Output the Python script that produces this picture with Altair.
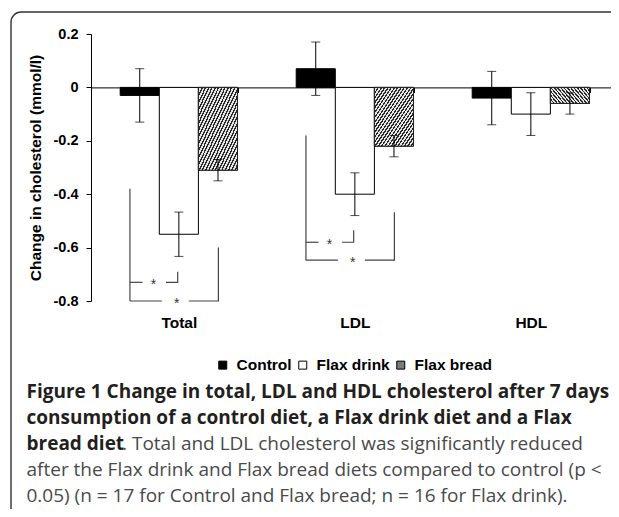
import altair as alt
import pandas as pd

# ---------------- data ----------------
categories = ["Total", "LDL", "HDL"]
groups = ["Control", "Flax drink", "Flax bread"]
control_mean = [-0.03, 0.07, -0.04]
drink_mean = [-0.55, -0.40, -0.10]
bread_mean = [-0.31, -0.22, -0.06]
control_err = [0.10, 0.10, 0.10]
drink_err = [0.083, 0.08, 0.08]
bread_err = [0.04, 0.04, 0.04]
y_domain = [-0.8, 0.2]
y_ticks = [0.2, 0, -0.2, -0.4, -0.6, -0.8]

# significance brackets (value levels)
sig_cats = ["Total", "LDL"]
sig_left_top = [-0.38, -0.18]
sig1_y = [-0.73, -0.58]
sig1_right_top = [-0.69, -0.535]
sig2_y = [-0.80, -0.647]
sig2_right_top = [-0.60, -0.468]
sig_mark = "*"

y_title = "Change in cholesterol (mmol/l)"
caption_bold = ["Figure 1 Change in total, LDL and HDL cholesterol after 7 days",
                "consumption of a control diet, a Flax drink diet and a Flax",
                "bread diet"]
caption_tail = ". Total and LDL cholesterol was significantly reduced"
caption_regular = ["after the Flax drink and Flax bread diets compared to control (p <",
                   "0.05) (n = 17 for Control and Flax bread; n = 16 for Flax drink)."]

# ---------------- layout constants ----------------
W, H = 520, 267
PAD_L, PAD_T, PAD_B = 83, 26, 208
CAP_FONT = "Open Sans"
CAP_SIZE = 19
CAP_LH = 26
CAP_TOP = 398          # page baseline of first caption line
AX_FONT = "Liberation Sans"

# positions inside a category band (fraction of band width)
P_LEFT, P_DRINK, P_BREAD = 0.083, 0.49, 0.837
G1A, G1B, S1 = 0.19, 0.39, 0.284
G2A, G2B, S2 = 0.355, 0.585, 0.481

# ---------------- tables ----------------
rows = []
for i, c in enumerate(categories):
    for g, m, e in zip(groups, [control_mean[i], drink_mean[i], bread_mean[i]],
                       [control_err[i], drink_err[i], bread_err[i]]):
        rows.append({"cat": c, "grp": g, "mean": m, "lo": m - e, "hi": m + e})
bars_df = pd.DataFrame(rows)

seg_rows, star_rows = [], []
for c, lt, y1, r1, y2, r2 in zip(sig_cats, sig_left_top, sig1_y, sig1_right_top, sig2_y, sig2_right_top):
    segs = [[(P_LEFT, lt), (P_LEFT, y2)],
            [(P_LEFT, y1), (G1A, y1)],
            [(G1B, y1), (P_DRINK, y1), (P_DRINK, r1)],
            [(P_LEFT, y2), (G2A, y2)],
            [(G2B, y2), (P_BREAD, y2), (P_BREAD, r2)]]
    for si, seg in enumerate(segs):
        for pi, (o, v) in enumerate(seg):
            seg_rows.append({"cat": c, "seg": f"{c}-{si}", "pt": pi, "off": o, "val": v})
    star_rows.append({"cat": c, "off": S1, "val": y1, "t": sig_mark})
    star_rows.append({"cat": c, "off": S2, "val": y2, "t": sig_mark})
seg_df = pd.DataFrame(seg_rows)
star_df = pd.DataFrame(star_rows)

# ---------------- encodings ----------------
zero_frac = (y_domain[1] - 0) / (y_domain[1] - y_domain[0])
x_axis = alt.Axis(title=None, orient="bottom", offset=-(H - zero_frac * H),
                  domainColor="black", domainWidth=1, tickColor="black", tickWidth=1,
                  tickSize=5, tickBand="extent", labelPadding=223, labelAngle=0,
                  labelFont=AX_FONT, labelFontSize=15.5, labelFontWeight="bold",
                  labelColor="black", grid=False)
x_scale = alt.Scale(domain=categories, paddingInner=1 / 3, paddingOuter=0.144, align=0.576)
y_axis = alt.Axis(title=y_title, values=y_ticks,
                  labelExpr="datum.value == 0 ? '0' : replace(format(datum.value, '.1f'), '\u2212', '-')",
                  domainColor="black", tickColor="black", tickSize=5, labelPadding=8,
                  labelFont=AX_FONT, labelFontSize=14.5, labelFontWeight="bold", labelColor="black",
                  titleFont=AX_FONT, titleFontSize=15.5, titleFontWeight="bold", titleColor="black",
                  titlePadding=10, grid=False)
y_scale = alt.Scale(domain=y_domain, nice=False, zero=False)


def X():
    return alt.X("cat:N", scale=x_scale, axis=x_axis, sort=categories)


def Y(field):
    return alt.Y(field, scale=y_scale, axis=y_axis, title=y_title)


xoff_nom = alt.XOffset("grp:N", scale=alt.Scale(domain=groups, paddingInner=0, paddingOuter=0), sort=groups)
xoff_q = alt.XOffset("off:Q", scale=alt.Scale(domain=[0, 1], nice=False, zero=False))

base = alt.Chart(bars_df)

bars = base.mark_bar(stroke="black", strokeWidth=1).encode(
    x=X(), xOffset=xoff_nom, y=Y("mean:Q"), y2=alt.datum(0),
    fill=alt.Fill("grp:N", scale=alt.Scale(domain=groups, range=["black", "white", "#7a7a7a"]),
                  legend=alt.Legend(title=None, orient="none", legendX=124, legendY=323,
                                    direction="horizontal", symbolType="square", symbolSize=64,
                                    symbolStrokeColor="black", symbolStrokeWidth=1,
                                    labelFont=AX_FONT, labelFontSize=15.5, labelFontWeight="bold",
                                    labelColor="black", columnPadding=3, labelOffset=6, padding=0)))

N = 24
stops = []
for k in range(N):
    a, b, c2 = k / N, (k + 0.45) / N, (k + 1) / N
    stops += [{"offset": a, "color": "#2a2a2a"}, {"offset": b, "color": "#2a2a2a"},
              {"offset": b, "color": "#e4e4e4"}, {"offset": c2, "color": "#e4e4e4"}]
hatch_fill = {"gradient": "linear", "x1": 0, "y1": 0, "x2": 1, "y2": 1, "stops": stops}

hatch = base.transform_filter(alt.datum.grp == groups[2]).mark_bar(
    fill=hatch_fill, stroke="#222", strokeWidth=1).encode(
    x=X(), xOffset=xoff_nom, y=Y("mean:Q"), y2=alt.datum(0))

stems = base.mark_rule(color="black", strokeWidth=1).encode(
    x=X(), xOffset=xoff_nom, y=Y("lo:Q"), y2="hi:Q")

caps = base.transform_fold(["lo", "hi"], as_=["k", "v"]).mark_tick(
    color="black", size=9, thickness=1, orient="horizontal").encode(
    x=X(), xOffset=xoff_nom, y=Y("v:Q"))

brackets = alt.Chart(seg_df).mark_line(color="#444", strokeWidth=1.2).encode(
    x=X(), xOffset=xoff_q, y=Y("val:Q"), detail="seg:N", order="pt:Q")

stars = alt.Chart(star_df).mark_text(color="#333", fontSize=14, font=AX_FONT,
                                     baseline="middle", dy=3).encode(
    x=X(), xOffset=xoff_q, y=Y("val:Q"), text="t:N")

frame = alt.Chart(pd.DataFrame({"f": [0]})).mark_rect(
    filled=False, stroke="#333", strokeWidth=1.4, cornerRadiusTopLeft=10).encode(
    x=alt.value(11 - 8 - PAD_L), y=alt.value(12 - 8 - PAD_T),
    x2=alt.value(W + 80), y2=alt.value(H + 300))

cap_x = 26.5 - 8 - PAD_L
cap_y0 = CAP_TOP - 8 - PAD_T
cap1 = alt.Chart(pd.DataFrame({"t": ["\n".join(caption_bold)]})).mark_text(
    font=CAP_FONT, fontSize=CAP_SIZE, fontWeight="bold", color="#231f20", align="left",
    baseline="alphabetic", lineBreak="\n", lineHeight=CAP_LH).encode(
    x=alt.value(cap_x), y=alt.value(cap_y0), text="t:N")
cap2 = alt.Chart(pd.DataFrame({"t": [caption_tail]})).mark_text(
    font=CAP_FONT, fontSize=CAP_SIZE, color="#4a4a4a", align="left", baseline="alphabetic").encode(
    x=alt.value(122 - 8 - PAD_L), y=alt.value(cap_y0 + 2 * CAP_LH), text="t:N")
cap3 = alt.Chart(pd.DataFrame({"t": ["\n".join(caption_regular)]})).mark_text(
    font=CAP_FONT, fontSize=CAP_SIZE, color="#4a4a4a", align="left",
    baseline="alphabetic", lineBreak="\n", lineHeight=CAP_LH).encode(
    x=alt.value(cap_x), y=alt.value(cap_y0 + 3 * CAP_LH), text="t:N")

chart = alt.layer(frame, bars, hatch, stems, caps, brackets, stars, cap1, cap2, cap3).resolve_scale(
    xOffset="independent").properties(
    width=W, height=H, autosize=alt.AutoSizeParams(type="none"),
    padding={"left": PAD_L, "top": PAD_T, "right": 0, "bottom": PAD_B},
    background="white").configure_view(stroke=None)

chart.save("out.html", embed_options={"renderer": "svg", "actions": False})
